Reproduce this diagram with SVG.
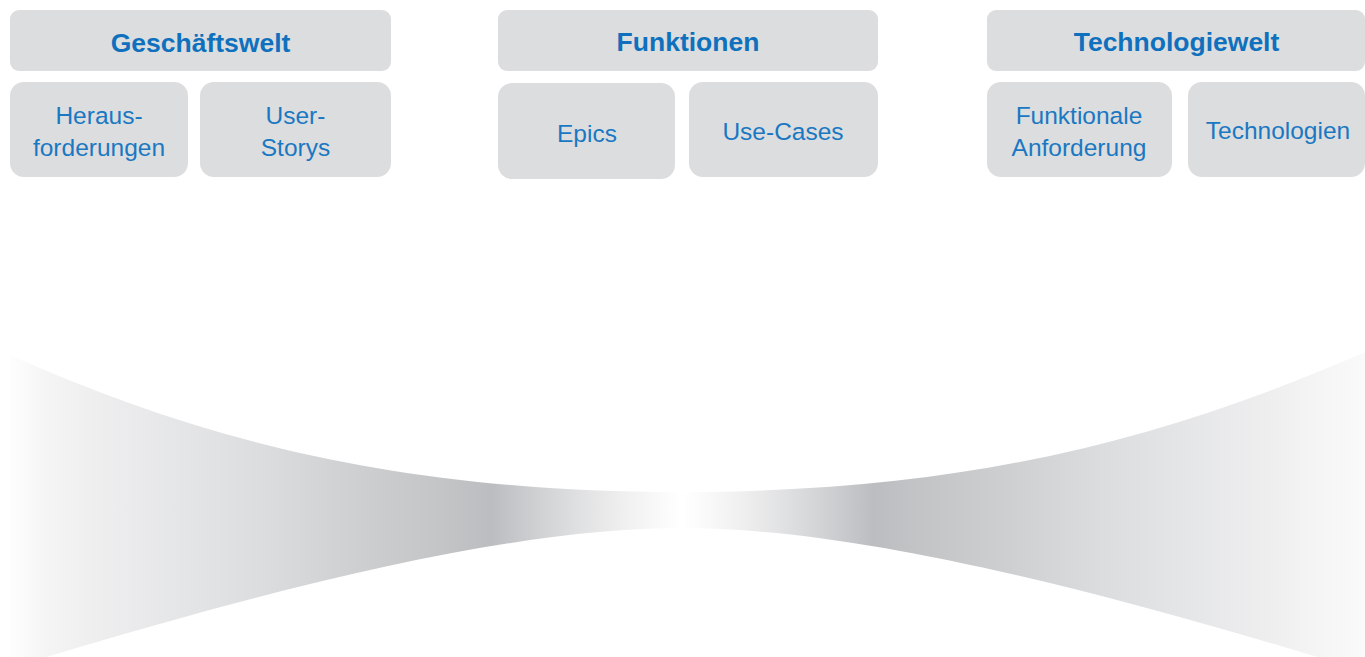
<svg xmlns="http://www.w3.org/2000/svg" width="1365" height="657" viewBox="0 0 1365 657">
<defs>
<linearGradient id="fade" gradientUnits="userSpaceOnUse" x1="0" y1="0" x2="1365" y2="0">
<stop offset="0.007" stop-color="#fefefe"/>
<stop offset="0.033" stop-color="#f5f5f5"/>
<stop offset="0.065" stop-color="#efeff0"/>
<stop offset="0.13" stop-color="#e5e6e7"/>
<stop offset="0.196" stop-color="#dbdcde"/>
<stop offset="0.262" stop-color="#cecfd1"/>
<stop offset="0.327" stop-color="#c3c4c6"/>
<stop offset="0.36" stop-color="#bcbdc0"/>
<stop offset="0.393" stop-color="#cfd0d2"/>
<stop offset="0.425" stop-color="#e0e1e2"/>
<stop offset="0.458" stop-color="#f0f0f0"/>
<stop offset="0.49" stop-color="#fcfcfc"/>
<stop offset="0.5" stop-color="#ffffff"/>
<stop offset="0.51" stop-color="#fcfcfc"/>
<stop offset="0.542" stop-color="#f0f0f0"/>
<stop offset="0.575" stop-color="#e0e1e2"/>
<stop offset="0.607" stop-color="#cfd0d2"/>
<stop offset="0.64" stop-color="#bcbdc0"/>
<stop offset="0.673" stop-color="#c3c4c6"/>
<stop offset="0.738" stop-color="#cecfd1"/>
<stop offset="0.804" stop-color="#dbdcde"/>
<stop offset="0.87" stop-color="#e5e6e7"/>
<stop offset="0.935" stop-color="#efeff0"/>
<stop offset="0.967" stop-color="#f5f5f5"/>
<stop offset="1" stop-color="#fafafa"/>
</linearGradient>
</defs>
<style>
.hdr{fill:#dcdddf}
.sub{fill:#dcdddf}
.t1{font-family:"Liberation Sans",Arial,sans-serif;font-weight:bold;font-size:26.5px;fill:#0f71bd;text-anchor:middle}
.t2{font-family:"Liberation Sans",Arial,sans-serif;font-size:24.5px;fill:#1a78c2;text-anchor:middle}
</style>
<g id="funnel">
<path fill="url(#fade)" d="M10,355 C200,440 400,492 682,492 C964,492 1164,440 1365,352 L1365,662 L1334,662 C1064,580 844,528 682,528 C520,528 300,580 30,662 L10,662 Z"/>
</g>
<g id="geschaeftswelt">
<rect class="hdr" x="10" y="10" width="381" height="61" rx="9"/>
<text class="t1" x="200.5" y="52">Geschäftswelt</text>
</g>
<g id="herausforderungen">
<rect class="sub" x="10" y="82" width="178" height="95" rx="14"/>
<text class="t2" x="99" y="124">Heraus-</text>
<text class="t2" x="99" y="156">forderungen</text>
</g>
<g id="userstorys">
<rect class="sub" x="200" y="82" width="191" height="95" rx="14"/>
<text class="t2" x="295.5" y="124">User-</text>
<text class="t2" x="295.5" y="156">Storys</text>
</g>
<g id="funktionen">
<rect class="hdr" x="498" y="10" width="380" height="61" rx="9"/>
<text class="t1" x="688" y="51">Funktionen</text>
</g>
<g id="epics">
<rect class="sub" x="498" y="83" width="177" height="96" rx="14"/>
<text class="t2" x="587" y="141.5">Epics</text>
</g>
<g id="usecases">
<rect class="sub" x="689" y="82" width="189" height="95" rx="14"/>
<text class="t2" x="783" y="139.5">Use-Cases</text>
</g>
<g id="technologiewelt">
<rect class="hdr" x="987" y="10" width="378" height="61" rx="9"/>
<text class="t1" x="1176.5" y="51">Technologiewelt</text>
</g>
<g id="funktionaleanforderung">
<rect class="sub" x="987" y="82" width="185" height="95" rx="14"/>
<text class="t2" x="1079" y="124">Funktionale</text>
<text class="t2" x="1079" y="155.5">Anforderung</text>
</g>
<g id="technologien">
<rect class="sub" x="1188" y="82" width="177" height="95" rx="14"/>
<text class="t2" x="1278" y="139">Technologien</text>
</g>
<g id="connectors"/>
</svg>
